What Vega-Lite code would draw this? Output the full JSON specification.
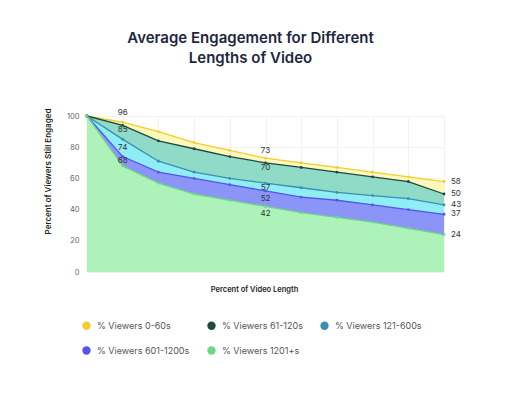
{
  "$schema": "https://vega.github.io/schema/vega-lite/v6.json",
  "width": 357,
  "height": 156,
  "autosize": {"type": "none"},
  "padding": {"left": 87, "top": 116, "right": 68, "bottom": 125},
  "background": "white",
  "title": {
    "text": ["Average Engagement for Different", "Lengths of Video"],
    "fontSize": 15,
    "font": "Inter",
    "fontWeight": 600,
    "color": "#1d2740",
    "lineHeight": 20,
    "offset": 42,
    "dx": -15
  },
  "config": {
    "view": {"stroke": null},
    "font": "Inter",
    "axis": {"gridColor": "#f2f2f2", "gridWidth": 1}
  },
  "data": {
    "values": [
      {"x": 0, "% Viewers 0-60s": 100, "% Viewers 61-120s": 100, "% Viewers 121-600s": 100, "% Viewers 601-1200s": 100, "% Viewers 1201+s": 100},
      {"x": 10, "% Viewers 0-60s": 96, "% Viewers 61-120s": 94, "% Viewers 121-600s": 85, "% Viewers 601-1200s": 74, "% Viewers 1201+s": 68},
      {"x": 20, "% Viewers 0-60s": 90, "% Viewers 61-120s": 84, "% Viewers 121-600s": 71, "% Viewers 601-1200s": 64, "% Viewers 1201+s": 57},
      {"x": 30, "% Viewers 0-60s": 83, "% Viewers 61-120s": 79, "% Viewers 121-600s": 64, "% Viewers 601-1200s": 60, "% Viewers 1201+s": 50},
      {"x": 40, "% Viewers 0-60s": 78, "% Viewers 61-120s": 74, "% Viewers 121-600s": 60, "% Viewers 601-1200s": 56, "% Viewers 1201+s": 46},
      {"x": 50, "% Viewers 0-60s": 73, "% Viewers 61-120s": 70, "% Viewers 121-600s": 57, "% Viewers 601-1200s": 52, "% Viewers 1201+s": 42},
      {"x": 60, "% Viewers 0-60s": 70, "% Viewers 61-120s": 67, "% Viewers 121-600s": 54, "% Viewers 601-1200s": 48, "% Viewers 1201+s": 38},
      {"x": 70, "% Viewers 0-60s": 67, "% Viewers 61-120s": 64, "% Viewers 121-600s": 51, "% Viewers 601-1200s": 46, "% Viewers 1201+s": 35},
      {"x": 80, "% Viewers 0-60s": 64, "% Viewers 61-120s": 61, "% Viewers 121-600s": 49, "% Viewers 601-1200s": 43, "% Viewers 1201+s": 32},
      {"x": 90, "% Viewers 0-60s": 61, "% Viewers 61-120s": 58, "% Viewers 121-600s": 47, "% Viewers 601-1200s": 40, "% Viewers 1201+s": 28},
      {"x": 100, "% Viewers 0-60s": 58, "% Viewers 61-120s": 50, "% Viewers 121-600s": 43, "% Viewers 601-1200s": 37, "% Viewers 1201+s": 24}
    ]
  },
  "encoding": {
    "x": {
      "field": "x",
      "type": "quantitative",
      "scale": {"domain": [0, 100], "nice": false},
      "axis": {
        "values": [0, 10, 20, 30, 40, 50, 60, 70, 80, 90, 100],
        "labels": false,
        "ticks": false,
        "domain": false,
        "grid": true,
        "title": "Percent of Video Length",
        "titleFontSize": 7.5,
        "titleFontWeight": 600,
        "titleColor": "#222",
        "titlePadding": 13,
        "titleX": 167
      }
    },
    "y": {
      "type": "quantitative",
      "scale": {"domain": [0, 100], "nice": false},
      "axis": {
        "values": [0, 20, 40, 60, 80, 100],
        "title": "Percent of Viewers Still Engaged",
        "titleFontSize": 8,
        "titleFontWeight": 600,
        "titleColor": "#222",
        "titleX": -35,
        "titleY": 55,
        "labelFontSize": 7.5,
        "labelColor": "#666",
        "labelPadding": 8,
        "ticks": false,
        "domain": false,
        "grid": true
      }
    }
  },
  "layer": [
    {
      "mark": {"type": "area", "fill": "#fff8bd", "opacity": 1},
      "encoding": {"y": {"field": "% Viewers 0-60s"}}
    },
    {
      "mark": {"type": "area", "fill": "#8fdbc8", "opacity": 1},
      "encoding": {"y": {"field": "% Viewers 61-120s"}}
    },
    {
      "mark": {"type": "area", "fill": "#8eeef3", "opacity": 1},
      "encoding": {"y": {"field": "% Viewers 121-600s"}}
    },
    {
      "mark": {"type": "area", "fill": "#8b94f7", "opacity": 1},
      "encoding": {"y": {"field": "% Viewers 601-1200s"}}
    },
    {
      "mark": {"type": "area", "fill": "#adf2b8", "opacity": 1},
      "encoding": {"y": {"field": "% Viewers 1201+s"}}
    },
    {
      "transform": [
        {"fold": ["% Viewers 0-60s", "% Viewers 61-120s", "% Viewers 121-600s", "% Viewers 601-1200s", "% Viewers 1201+s"], "as": ["series", "v"]}
      ],
      "encoding": {
        "y": {"field": "v"},
        "color": {
          "field": "series",
          "type": "nominal",
          "scale": {
            "domain": ["% Viewers 0-60s", "% Viewers 61-120s", "% Viewers 121-600s", "% Viewers 601-1200s", "% Viewers 1201+s"],
            "range": ["#f2cc30", "#1c4a3e", "#3a8fb0", "#5552ef", "#6fd58a"]
          },
          "legend": {
            "title": null,
            "orient": "none",
            "legendX": -5,
            "legendY": 205,
            "direction": "horizontal",
            "columns": 3,
            "symbolType": "circle",
            "symbolSize": 70,
            "symbolOpacity": 1,
            "symbolStrokeWidth": 0,
            "labelFontSize": 9,
            "labelColor": "#555",
            "columnPadding": 17,
            "rowPadding": 15,
            "labelOffset": 6
          }
        }
      },
      "layer": [
        {
          "mark": {"type": "line", "strokeWidth": 1.3}
        },
        {
          "mark": {"type": "point", "filled": true, "size": 8, "opacity": 1}
        },
        {
          "transform": [{"filter": "datum.x == 10 && datum.series != '% Viewers 61-120s' && datum.series != '% Viewers 1201+s'"}],
          "mark": {"type": "text", "fontSize": 8, "color": "#333", "dy": -9},
          "encoding": {"text": {"field": "v", "type": "quantitative"}, "color": {"value": "#333"}}
        },
        {
          "transform": [{"filter": "datum.x == 10 && datum.series == '% Viewers 1201+s'"}],
          "mark": {"type": "text", "fontSize": 8, "color": "#333", "dy": -5},
          "encoding": {"text": {"field": "v", "type": "quantitative"}, "color": {"value": "#333"}}
        },
        {
          "transform": [{"filter": "datum.x == 50 && datum.series == '% Viewers 0-60s'"}],
          "mark": {"type": "text", "fontSize": 8, "color": "#333", "dy": -7},
          "encoding": {"text": {"field": "v", "type": "quantitative"}, "color": {"value": "#333"}}
        },
        {
          "transform": [{"filter": "datum.x == 50 && (datum.series == '% Viewers 61-120s' || datum.series == '% Viewers 121-600s')"}],
          "mark": {"type": "text", "fontSize": 8, "color": "#333", "dy": 5},
          "encoding": {"text": {"field": "v", "type": "quantitative"}, "color": {"value": "#333"}}
        },
        {
          "transform": [{"filter": "datum.x == 50 && (datum.series == '% Viewers 601-1200s' || datum.series == '% Viewers 1201+s')"}],
          "mark": {"type": "text", "fontSize": 8, "color": "#333", "dy": 8},
          "encoding": {"text": {"field": "v", "type": "quantitative"}, "color": {"value": "#333"}}
        },
        {
          "transform": [{"filter": "datum.x == 100"}],
          "mark": {"type": "text", "fontSize": 8, "color": "#333", "align": "left", "dx": 7},
          "encoding": {"text": {"field": "v", "type": "quantitative"}, "color": {"value": "#333"}}
        }
      ]
    }
  ]
}
